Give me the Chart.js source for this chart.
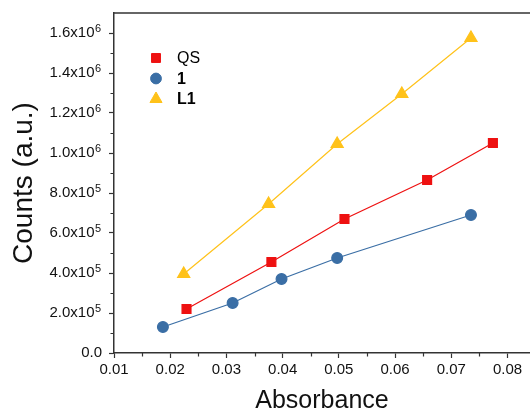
<!DOCTYPE html>
<html>
<head>
<meta charset="utf-8">
<script src="https://cdn.jsdelivr.net/npm/chart.js@4"></script>
<style>
  html, body { margin: 0; padding: 0; background: #fff; }
  #wrap { width: 530px; height: 414px; }
</style>
</head>
<body>
<div id="wrap"><canvas id="chart" width="530" height="414"></canvas></div>
<script>
// values
const qsX = [0.0229, 0.0380, 0.0510, 0.0657, 0.0774];
const qsY = [2.2e5, 4.55e5, 6.7e5, 8.65e5, 1.05e6];
const c1X = [0.0187, 0.0311, 0.0398, 0.0497, 0.0735];
const c1Y = [1.3e5, 2.5e5, 3.7e5, 4.75e5, 6.9e5];
const l1X = [0.0224, 0.0375, 0.0497, 0.0612, 0.0735];
const l1Y = [3.95e5, 7.45e5, 1.045e6, 1.295e6, 1.575e6];

const xTicks = [0.01, 0.02, 0.03, 0.04, 0.05, 0.06, 0.07, 0.08];
const yTicks = [0, 2e5, 4e5, 6e5, 8e5, 1e6, 1.2e6, 1.4e6, 1.6e6];
const xMinor = [0.015, 0.025, 0.035, 0.045, 0.055, 0.065, 0.075];
const yMinor = [1e5, 3e5, 5e5, 7e5, 9e5, 1.1e6, 1.3e6, 1.5e6];

const legendNames = ['QS', '1', 'L1'];
const legendBold = [false, true, true];

const RED = '#ee1111';
const BLUE = '#3a6ea5';
const YELLOW = '#ffc21a';
const AXIS = '#333333';
const FONT = "'Liberation Sans', Arial, sans-serif";
const GAP = '\u2002'; // room left for the exponent

function pts(xs, ys) {
    return xs.map((x, i) => ({ x: x, y: ys[i] }));
}

function expOf(v) {
    return Math.floor(Math.log10(v) + 1e-9);
}

function sciLabel(v) {
    if (v === 0) return '0.0';
    const m = v / Math.pow(10, expOf(v));
    return m.toFixed(1) + 'x10' + GAP;
}

function noPad(s) {
    s.paddingLeft = 0;
    s.paddingRight = 0;
    s.paddingTop = 0;
    s.paddingBottom = 0;
}

// top frame line, minor ticks, exponents and the legend
const extras = {
    id: 'extras',
    afterDraw(chart) {
        const ctx = chart.ctx;
        const area = chart.chartArea;
        const xs = chart.scales.x;
        const ys = chart.scales.y;
        ctx.save();
        ctx.strokeStyle = AXIS;
        ctx.lineWidth = 1.5;
        ctx.beginPath();
        ctx.moveTo(area.left, area.top);
        ctx.lineTo(area.right, area.top);
        ctx.stroke();

        ctx.lineWidth = 1.2;
        ctx.beginPath();
        xMinor.forEach(v => {
            const px = Math.round(xs.getPixelForValue(v)) + 0.5;
            ctx.moveTo(px, area.bottom);
            ctx.lineTo(px, area.bottom + 3.5);
        });
        yMinor.forEach(v => {
            const py = Math.round(ys.getPixelForValue(v)) + 0.5;
            ctx.moveTo(area.left, py);
            ctx.lineTo(area.left - 3.5, py);
        });
        ctx.stroke();

        // exponents of the y tick labels
        ctx.font = '15px ' + FONT;
        const gw = ctx.measureText(GAP).width;
        const labelRight = area.left - 5 - 7;
        ctx.font = '11px ' + FONT;
        ctx.fillStyle = '#111';
        ctx.textAlign = 'left';
        ctx.textBaseline = 'alphabetic';
        yTicks.forEach(v => {
            if (v === 0) return;
            const py = ys.getPixelForValue(v);
            ctx.fillText(String(expOf(v)), labelRight - gw + 0.5, py - 1);
        });

        // legend
        const sets = chart.data.datasets;
        legendNames.forEach((name, i) => {
            const ds = sets[i];
            const y = 58 + i * 20.5;
            ctx.fillStyle = ds.backgroundColor;
            ctx.strokeStyle = ds.borderColor;
            ctx.lineWidth = 1;
            Chart.helpers.drawPoint(ctx, { pointStyle: ds.pointStyle, radius: ds.pointRadius, rotation: 0, borderWidth: 1 }, 156, y);
            ctx.fillStyle = '#000';
            ctx.font = (legendBold[i] ? 'bold ' : '') + '16px ' + FONT;
            ctx.textBaseline = 'middle';
            ctx.textAlign = 'left';
            ctx.fillText(name, 177, y + 1);
        });
        ctx.restore();
    }
};

new Chart(document.getElementById('chart').getContext('2d'), {
    type: 'scatter',
    data: {
        datasets: [
            { label: 'QS', data: pts(qsX, qsY), showLine: true, borderColor: RED, backgroundColor: RED,
              borderWidth: 1.2, pointStyle: 'rect', pointRadius: 6.3, pointHoverRadius: 6.3 },
            { label: '1', data: pts(c1X, c1Y), showLine: true, borderColor: BLUE, backgroundColor: BLUE,
              borderWidth: 1.2, pointStyle: 'circle', pointRadius: 5.4, pointHoverRadius: 5.4 },
            { label: 'L1', data: pts(l1X, l1Y), showLine: true, borderColor: YELLOW, backgroundColor: YELLOW,
              borderWidth: 1.2, pointStyle: 'triangle', pointRadius: 7, pointHoverRadius: 7 }
        ]
    },
    options: {
        responsive: false,
        animation: false,
        events: [],
        layout: { padding: { top: 13, right: 0, bottom: 0, left: 0 }, autoPadding: false },
        plugins: { legend: { display: false }, tooltip: { enabled: false } },
        scales: {
            x: {
                type: 'linear',
                min: 0.01,
                max: 0.084,
                afterBuildTicks: s => { s.ticks = xTicks.map(v => ({ value: v })); },
                afterFit: s => { s.height = 61; noPad(s); },
                border: { display: true, color: AXIS, width: 1.5 },
                grid: { drawOnChartArea: false, drawTicks: true, tickLength: 5, tickColor: AXIS, tickWidth: 1.2 },
                ticks: { color: '#111', font: { family: FONT, size: 15 }, padding: 3, maxRotation: 0,
                         callback: v => v.toFixed(2) },
                title: { display: true, text: 'Absorbance', color: '#111',
                         font: { family: FONT, size: 25, lineHeight: 1 }, padding: 0 }
            },
            y: {
                type: 'linear',
                min: 0,
                max: 1.7e6,
                afterBuildTicks: s => { s.ticks = yTicks.map(v => ({ value: v })); },
                afterFit: s => { s.width = 114; noPad(s); },
                border: { display: true, color: AXIS, width: 1.5 },
                grid: { drawOnChartArea: false, drawTicks: true, tickLength: 5, tickColor: AXIS, tickWidth: 1.2 },
                ticks: { color: '#111', font: { family: FONT, size: 15 }, padding: 7,
                         callback: v => sciLabel(v) },
                title: { display: true, text: 'Counts (a.u.)', color: '#111',
                         font: { family: FONT, size: 28, lineHeight: 1 }, padding: { top: 10 } }
            }
        }
    },
    plugins: [extras]
});
</script>
</body>
</html>
